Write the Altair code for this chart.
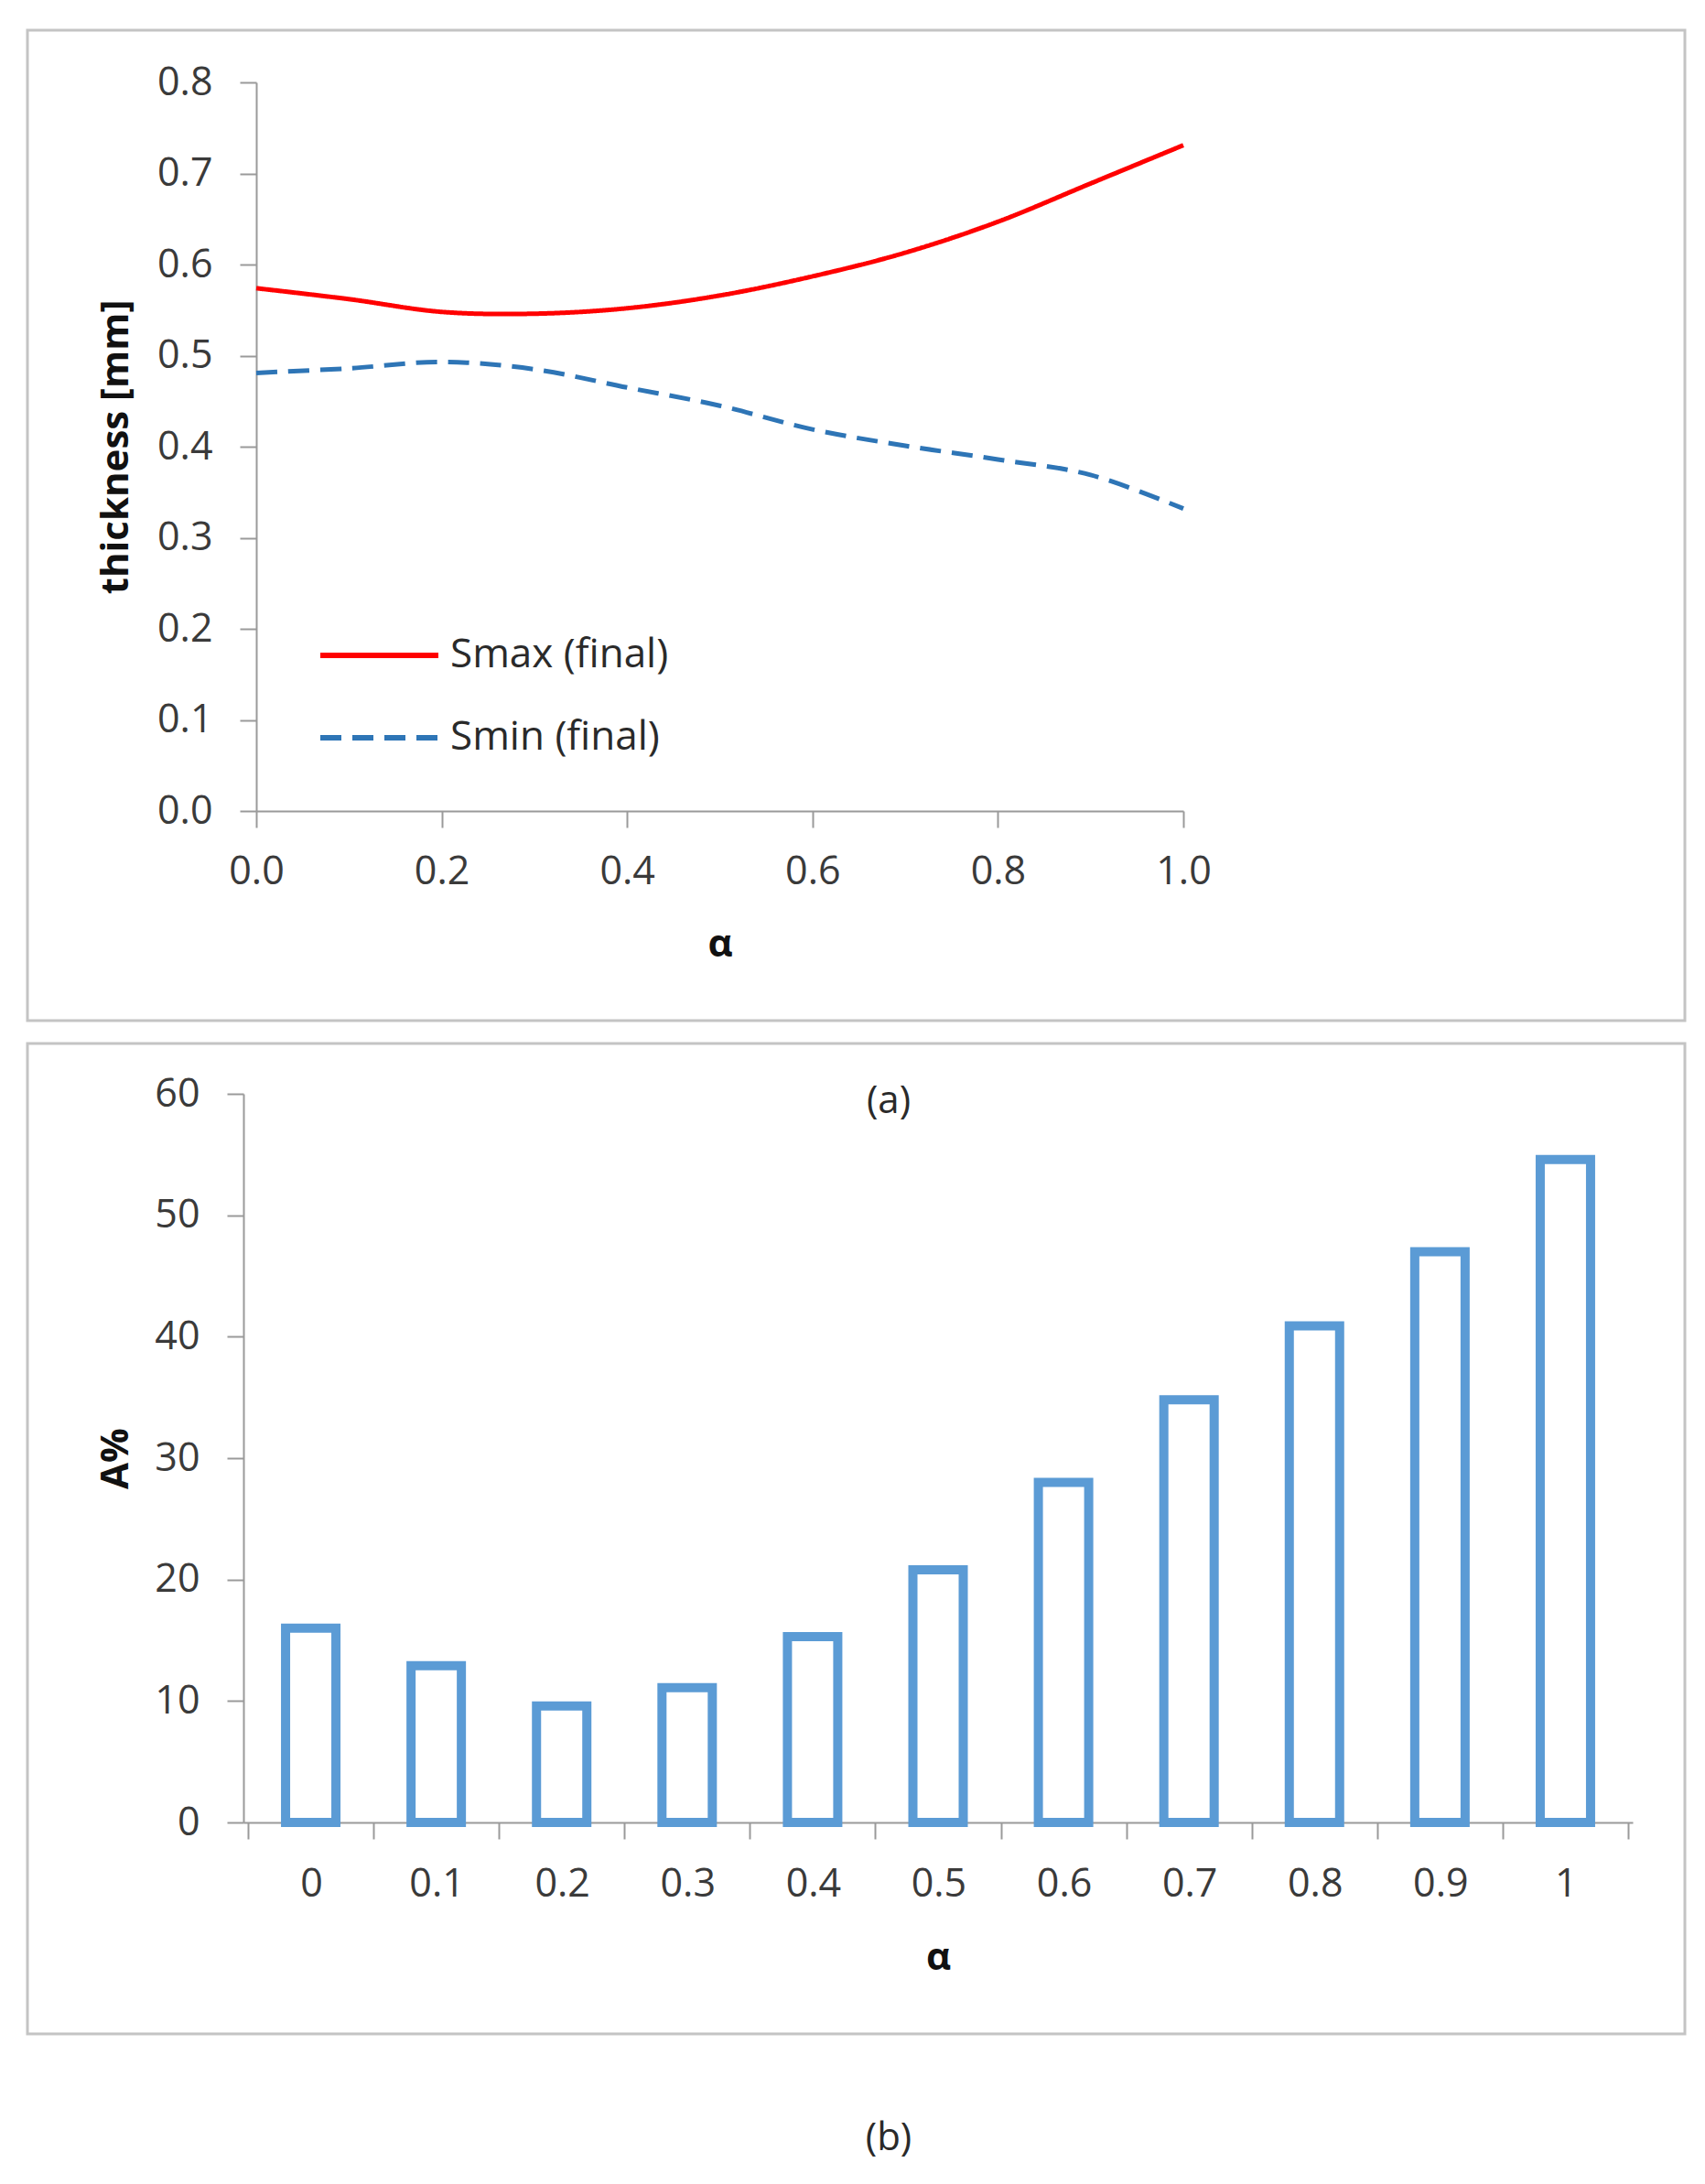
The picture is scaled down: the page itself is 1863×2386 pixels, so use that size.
import altair as alt
import pandas as pd

# ---------------- data ----------------
alpha = [0.0, 0.1, 0.2, 0.3, 0.4, 0.5, 0.6, 0.7, 0.8, 0.9, 1.0]
series_names = ["Smax (final)", "Smin (final)"]
smax = [0.574, 0.562, 0.548, 0.546, 0.552, 0.566, 0.587, 0.613, 0.647, 0.689, 0.731]
smin = [0.481, 0.486, 0.493, 0.485, 0.465, 0.445, 0.419, 0.401, 0.386, 0.369, 0.332]
a_pct = [16.0, 12.9, 9.6, 11.1, 15.3, 20.8, 28.0, 34.8, 40.9, 47.0, 54.6]

x_ticks_a = [0.0, 0.2, 0.4, 0.6, 0.8, 1.0]
y_ticks_a = [0.0, 0.1, 0.2, 0.3, 0.4, 0.5, 0.6, 0.7, 0.8]
y_ticks_b = [0, 10, 20, 30, 40, 50, 60]
x_bounds_b = [-0.05, 0.05, 0.15, 0.25, 0.35, 0.45, 0.55, 0.65, 0.75, 0.85, 0.95, 1.05]

RED = "#FF0000"
BLUE = "#2E75B6"
BAR = "#5B9BD5"
BORDER = "#C4C4C4"
FONT = "Open Sans"
TXT = "#2a2a2a"

lines_df = pd.DataFrame({
    "alpha": alpha * 2,
    "value": smax + smin,
    "series": [series_names[0]] * len(alpha) + [series_names[1]] * len(alpha),
})
bars_df = pd.DataFrame({"alpha": alpha, "A": a_pct})
one = pd.DataFrame({"k": [0]})

# ---------------- panel (a) ----------------
WA, HA = 1013, 796

border_a = alt.Chart(one).mark_rect(fillOpacity=0, stroke=BORDER, strokeWidth=3).encode(
    x=alt.value(-250), x2=alt.value(1561), y=alt.value(-57), y2=alt.value(1025)
)

lines = alt.Chart(lines_df).mark_line(interpolate="cardinal", strokeWidth=5).encode(
    x=alt.X("alpha:Q", scale=alt.Scale(domain=[0, 1], nice=False, zero=False),
            axis=alt.Axis(values=x_ticks_a, format=".1f", title="α", labelFlush=False,
                          titleY=145, titleBaseline="middle", labelPadding=27)),
    y=alt.Y("value:Q", scale=alt.Scale(domain=[0, 0.8], nice=False),
            axis=alt.Axis(values=y_ticks_a, format=".1f", title="thickness [mm]", labelFlush=False,
                          titleX=-154, titleY=HA / 2, titleBaseline="middle",
                          titleAngle=270, labelPadding=30)),
    color=alt.Color("series:N", scale=alt.Scale(domain=series_names, range=[RED, BLUE]), legend=None),
    strokeDash=alt.StrokeDash("series:N", scale=alt.Scale(domain=series_names, range=[[1, 0], [23, 12]]),
                              legend=None),
)

leg1_rule = alt.Chart(one).mark_rule(color=RED, strokeWidth=6).encode(
    x=alt.value(70), x2=alt.value(199), y=alt.value(626))
leg1_text = alt.Chart(one).mark_text(text=series_names[0], align="left", baseline="middle",
                                     font=FONT, fontSize=44, color=TXT).encode(
    x=alt.value(212), y=alt.value(626))
leg2_rule = alt.Chart(one).mark_rule(color=BLUE, strokeWidth=6, strokeDash=[23, 12]).encode(
    x=alt.value(70), x2=alt.value(199), y=alt.value(716))
leg2_text = alt.Chart(one).mark_text(text=series_names[1], align="left", baseline="middle",
                                     font=FONT, fontSize=44, color=TXT).encode(
    x=alt.value(212), y=alt.value(716))

panel_a = alt.layer(border_a, lines, leg1_rule, leg1_text, leg2_rule, leg2_text).properties(
    width=WA, height=HA)

# ---------------- panel (b) ----------------
# plot origin is aligned with panel (a); the x range starts 14 px to the left of it
WB, HB = 1504, 796
SHIFT = 14

border_b = alt.Chart(one).mark_rect(fillOpacity=0, stroke=BORDER, strokeWidth=3).encode(
    x=alt.value(-250), x2=alt.value(1561), y=alt.value(-55), y2=alt.value(1027)
)

bars = alt.Chart(bars_df).mark_bar(size=55, fill="white", stroke=BAR, strokeWidth=10).encode(
    x=alt.X("alpha:Q", scale=alt.Scale(domain=[-0.05, 1.05], range=[-SHIFT, WB], nice=False, zero=False),
            axis=alt.Axis(values=x_bounds_b, labelOffset=69, labelOverlap=False, labelBound=False,
                          labelFlush=False, labelPadding=28,
                          labelExpr="datum.value > 1 ? '' : format(round((datum.value + 0.05) * 10) / 10, '.1~f')",
                          title="α", titleY=147, titleBaseline="middle")),
    y=alt.Y("A:Q", scale=alt.Scale(domain=[0, 60], nice=False),
            axis=alt.Axis(values=y_ticks_b, format="d", title="A%", labelFlush=False, offset=SHIFT,
                          titleX=-140, titleY=HB / 2, titleBaseline="middle",
                          titleAngle=270, labelPadding=30)),
)

cap_a = alt.Chart(one).mark_text(text="(a)", align="center", baseline="middle",
                                 font=FONT, fontSize=42, color=TXT).encode(
    x=alt.value(691), y=alt.value(8))
cap_b = alt.Chart(one).mark_text(text="(b)", align="center", baseline="middle",
                                 font=FONT, fontSize=42, color=TXT).encode(
    x=alt.value(691), y=alt.value(1141))

panel_b = alt.layer(border_b, bars, cap_a, cap_b).properties(width=WB, height=HB)

chart = alt.concat(panel_a, panel_b, columns=1, align="none", spacing=21).properties(
    padding={"left": 20, "top": 23, "right": 5, "bottom": 4},
    background="white",
).configure_view(stroke=None).configure_axis(
    grid=False,
    labelFont=FONT, labelFontSize=43, labelColor="#3a3a3a",
    titleFont=FONT, titleFontSize=42, titleFontWeight="bold", titleColor="#111111",
    domainColor="#9A9A9A", domainWidth=2, tickColor="#9A9A9A", tickWidth=2, tickSize=18,
)

chart.save("out.html", embed_options={"renderer": "svg", "actions": False})
